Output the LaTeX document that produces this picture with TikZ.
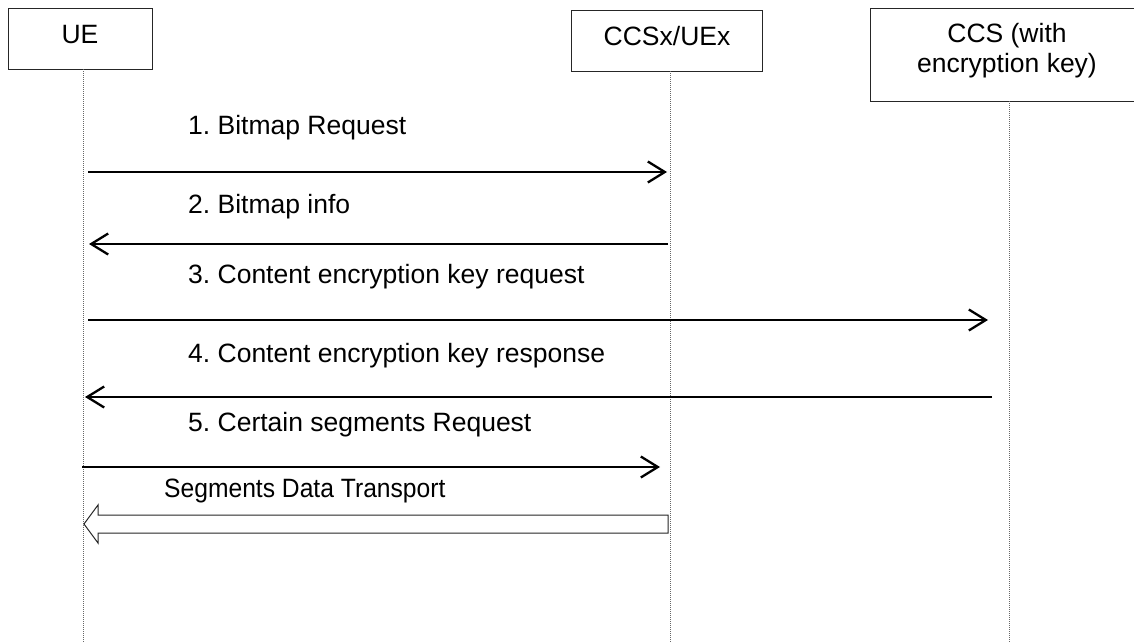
\documentclass[tikz,border=0pt]{standalone}
\usepackage{fontspec}
\setmainfont{Liberation Sans}
\newfontfamily\narrowsans[FakeStretch=0.93]{Liberation Sans}
\usetikzlibrary{arrows.meta}
\frenchspacing
\begin{document}
\begin{tikzpicture}[x=1pt,y=-1pt,
  entity/.style={draw=black!85, line width=1.1pt, fill=white, inner sep=0pt, anchor=north west},
  entitytext/.style={inner sep=0pt, align=center, font=\fontsize{26.5}{30}\selectfont},
  lifeline/.style={draw=black!60, line width=0.9pt, dash pattern=on 1pt off 1pt},
  msg/.style={line width=2.3pt, -{Straight Barb[length=17pt,width=21pt,line width=2.3pt]}},
  msglabel/.style={anchor=west, inner sep=0pt, font=\fontsize{26.5}{29}\selectfont},
  bulk/.style={draw=black!85, line width=1pt, fill=white}]
\useasboundingbox (0,0) rectangle (1134,642);
\clip (0,0) rectangle (1134,642);

% participants
\node[entity, minimum width=144pt, minimum height=61pt] (ue) at (8,8) {};
\node[entitytext] (ueText) at (80,35) {UE};
\node[entity, minimum width=191pt, minimum height=61pt] (ccsx) at (571,10) {};
\node[entitytext] (ccsxText) at (667,36) {CCSx/UEx};
\node[entity, minimum width=278pt, minimum height=93pt] (ccs) at (870,8) {};
\node[entitytext] (ccsText) at (1007,51) {CCS (with\\encryption key)};

% lifelines
\coordinate (ueTop) at (83,69);   \coordinate (ueBot) at (83,642);
\coordinate (cxTop) at (670,71);  \coordinate (cxBot) at (670,642);
\coordinate (csTop) at (1009,101);\coordinate (csBot) at (1009,642);
\draw[lifeline] (ueTop) -- (ueBot);
\draw[lifeline] (cxTop) -- (cxBot);
\draw[lifeline] (csTop) -- (csBot);

% message end points
\coordinate (m1a) at (88,172);  \coordinate (m1b) at (667,172);
\coordinate (m2a) at (668,244); \coordinate (m2b) at (89,244);
\coordinate (m3a) at (88,320);  \coordinate (m3b) at (988,320);
\coordinate (m4a) at (992,397); \coordinate (m4b) at (85,397);
\coordinate (m5a) at (82,467);  \coordinate (m5b) at (660,467);

% messages
\node[msglabel] (t1) at (188,128) {1. Bitmap Request};
\draw[msg] (m1a) -- (m1b);
\node[msglabel] (t2) at (188,207) {2. Bitmap info};
\draw[msg] (m2a) -- (m2b);
\node[msglabel] (t3) at (188,277) {3. Content encryption key request};
\draw[msg] (m3a) -- (m3b);
\node[msglabel] (t4) at (188,356) {4. Content encryption key response};
\draw[msg] (m4a) -- (m4b);
\node[msglabel] (t5) at (188,425) {5. Certain segments Request};
\draw[msg] (m5a) -- (m5b);

% bulk data transfer (hollow arrow)
\node[msglabel, font=\narrowsans\fontsize{26.5}{29}\selectfont] (t6) at (164,491) {Segments Data Transport};
\coordinate (bTail) at (668,524);
\coordinate (bTip) at (84,524);
\draw[bulk] (bTail |- 0,515) -- (98,515) -- (98,505) -- (bTip)
  -- (98,543) -- (98,533) -- (bTail |- 0,533) -- cycle;
\end{tikzpicture}
\end{document}
